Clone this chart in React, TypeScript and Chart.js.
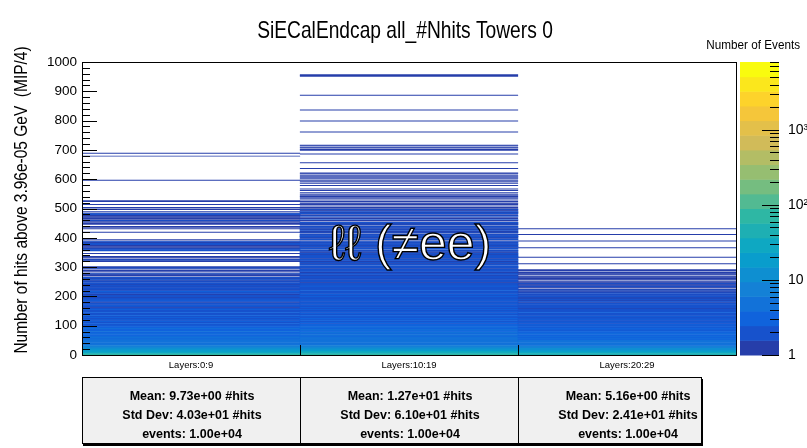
import React, { useEffect, useRef } from 'react';
import { Chart, registerables } from 'chart.js';

Chart.register(...registerables);

// ---------------- data ----------------
const chartTitle = 'SiECalEndcap all_#Nhits Towers 0';
const yTitle = 'Number of hits above 3.96e-05 GeV  (MIP/4)';
const zTitle = 'Number of Events';
const overlayLabel = 'ℓℓ (≠ee)';
const categories = ['Layers:0:9', 'Layers:10:19', 'Layers:20:29'];
const binWidth = 2.5;
const yMin = 0;
const yMax = 1000;
const yMajorStep = 100;
const yMinorStep = 20;
const zMin = 1;
const zMax = 8000;
const zLabelValues = [1, 10, 100, 1000];
const zLabelTexts = ['1', '10', '10²', '10³'];

// events per 2.5-unit bin starting at 0 (each row = 50 units)
const layers0to9 = [
  60, 45, 35, 28, 22, 18, 15, 13, 11, 10, 9, 8, 7, 6, 6, 5, 5, 4, 5, 4,
  4, 3, 4, 4, 3, 4, 3, 3, 4, 3, 3, 4, 3, 3, 3, 4, 3, 3, 3, 2,
  3, 2, 3, 2, 2, 3, 2, 3, 2, 2, 3, 2, 2, 3, 2, 2, 2, 3, 2, 2,
  2, 3, 2, 2, 1, 2, 2, 3, 2, 2, 2, 1, 2, 2, 3, 2, 2, 2, 1, 2,
  2, 2, 1, 2, 2, 2, 3, 2, 1, 2, 2, 2, 1, 2, 2, 1, 2, 2, 2, 1,
  2, 1, 2, 2, 1, 2, 1, 0, 1, 1, 2, 1, 0, 1, 1, 1, 0, 1, 2, 1,
  1, 0, 0, 0, 0, 0, 0, 1, 1, 2, 1, 0, 1, 1, 1, 0, 0, 0, 1, 0,
  0, 0, 2, 2, 2, 1, 1, 1, 1, 1, 2, 2, 2, 1, 2, 1, 0, 1, 0, 0,
  0, 0, 0, 0, 0, 0, 0, 1, 0, 0, 0, 0, 1, 0, 1, 1, 0, 0, 1, 1,
  1, 0, 1, 2, 1, 0, 1, 1, 1, 1, 1, 2, 2, 1, 0, 1, 0, 0, 1, 1,
  0, 1, 0, 0, 0, 1, 0, 0, 0, 1, 1, 0, 0, 0, 0, 0, 0, 0, 0, 0,
  0, 0, 0, 0, 0, 0, 0, 0, 0, 0, 0, 0, 0, 0, 0, 0, 0, 0, 1, 0,
  0, 0, 0, 0, 0, 0, 0, 0, 0, 0, 0, 0, 0, 0, 0, 0, 0, 0, 0, 0,
  0, 0, 0, 0, 0, 0, 0, 0, 0, 0, 0, 1, 0, 0, 0, 1,
];

const layers10to19 = [
  70, 50, 38, 30, 24, 19, 16, 14, 12, 10, 9, 8, 7, 6, 6, 5, 5, 5, 4, 4,
  4, 5, 4, 4, 4, 3, 4, 4, 3, 4, 4, 3, 4, 3, 4, 3, 3, 4, 3, 3,
  3, 3, 2, 3, 3, 2, 3, 2, 3, 3, 2, 3, 2, 3, 2, 2, 3, 2, 3, 2,
  2, 3, 2, 2, 3, 2, 2, 3, 2, 2, 3, 2, 2, 2, 3, 2, 2, 2, 2, 3,
  2, 2, 3, 2, 2, 2, 2, 3, 2, 2, 2, 2, 2, 3, 2, 2, 2, 2, 1, 2,
  2, 2, 2, 1, 2, 2, 2, 2, 1, 2, 2, 2, 1, 2, 2, 2, 2, 1, 2, 2,
  2, 2, 0, 2, 1, 2, 2, 1, 2, 2, 2, 1, 2, 2, 2, 2, 1, 2, 2, 1,
  2, 1, 2, 2, 0, 2, 1, 2, 2, 1, 2, 2, 1, 2, 2, 1, 0, 2, 1, 2,
  1, 2, 2, 1, 2, 0, 1, 2, 1, 2, 1, 2, 1, 2, 1, 2, 0, 1, 2, 1,
  2, 1, 0, 1, 2, 0, 1, 1, 0, 2, 1, 1, 0, 2, 1, 2, 1, 1, 2, 1,
  1, 1, 0, 1, 0, 1, 1, 1, 0, 1, 0, 1, 0, 1, 0, 1, 1, 1, 0, 1,
  0, 1, 0, 0, 1, 0, 1, 0, 0, 0, 0, 1, 0, 0, 1, 0, 1, 0, 1, 0,
  1, 0, 1, 1, 0, 1, 0, 1, 1, 0, 0, 0, 0, 0, 1, 0, 0, 0, 0, 0,
  0, 0, 1, 0, 0, 0, 0, 0, 0, 0, 0, 0, 0, 0, 1, 0, 0, 0, 0, 1,
  1, 0, 1, 1, 0, 1, 1, 0, 0, 0, 0, 0, 0, 0, 0, 0, 0, 0, 0, 0,
  0, 0, 0, 0, 1, 0, 0, 0, 0, 0, 0, 0, 0, 0, 0, 0, 0, 0, 0, 1,
  0, 0, 0, 0, 0, 0, 0, 0, 0, 0, 0, 0, 0, 0, 1, 0, 0, 0, 0, 0,
  0, 0, 0, 0, 0, 0, 0, 0, 0, 0, 0, 0, 0, 0, 1, 0, 0, 0, 0, 0,
  0, 0, 0, 0, 0, 0, 0, 0, 0, 0, 0, 0, 0, 0, 0, 0, 0, 0, 0, 0,
  1, 1, 1,
];

const layers20to29 = [
  55, 42, 32, 25, 20, 16, 13, 11, 10, 9, 8, 7, 6, 6, 5, 5, 4, 4, 4, 4,
  3, 4, 3, 3, 4, 3, 3, 3, 4, 3, 3, 3, 3, 2, 3, 3, 3, 2, 3, 3,
  2, 3, 2, 2, 3, 2, 2, 2, 3, 2, 2, 2, 3, 2, 2, 2, 2, 3, 2, 2,
  2, 2, 2, 1, 2, 2, 2, 2, 2, 2, 2, 1, 2, 2, 1, 2, 1, 2, 1, 2,
  2, 1, 2, 2, 1, 2, 1, 1, 2, 1, 0, 1, 1, 2, 1, 1, 1, 2, 1, 1,
  1, 0, 1, 1, 1, 1, 1, 1, 0, 1, 1, 1, 1, 0, 1, 1, 1, 0, 0, 0,
  0, 0, 0, 0, 1, 0, 0, 0, 0, 0, 0, 0, 0, 1, 0, 0, 0, 0, 0, 0,
  0, 0, 0, 0, 0, 0, 1, 0, 0, 0, 0, 0, 0, 0, 0, 1, 0, 0, 0, 0,
  0, 0, 0, 0, 1, 0, 0, 0, 0, 0, 0, 0, 1,
];

const statMeans = ['9.73e+00', '1.27e+01', '5.16e+00'];
const statStdDevs = ['4.03e+01', '6.10e+01', '2.41e+01'];
const statEvents = ['1.00e+04', '1.00e+04', '1.00e+04'];

// ---------------- styling helpers ----------------
const FONT = '"Liberation Sans", Arial, Helvetica, sans-serif';
const NCONT = 20;
const BR = [0.2082, 0.0592, 0.078, 0.0232, 0.1802, 0.5301, 0.8186, 0.9956, 0.9764];
const BG = [0.1664, 0.3599, 0.5041, 0.6419, 0.7178, 0.7492, 0.7328, 0.7862, 0.9832];
const BB = [0.5293, 0.8684, 0.8385, 0.7914, 0.6425, 0.4662, 0.3499, 0.1968, 0.0539];

function bird(t: number): string {
  const x = Math.max(0, Math.min(1, t)) * 8;
  const i = Math.min(7, Math.floor(x));
  const f = x - i;
  const r = BR[i] + (BR[i + 1] - BR[i]) * f;
  const g = BG[i] + (BG[i + 1] - BG[i]) * f;
  const b = BB[i] + (BB[i + 1] - BB[i]) * f;
  return `rgb(${Math.round(r * 255)},${Math.round(g * 255)},${Math.round(b * 255)})`;
}

function bandOf(v: number): number {
  const k = Math.floor((NCONT * Math.log10(v / zMin)) / Math.log10(zMax / zMin));
  return Math.max(0, Math.min(NCONT - 1, k));
}

function countColor(c: number): string {
  return bird((bandOf(c) + 1) / NCONT);
}

const columns = [layers0to9, layers10to19, layers20to29];

function narrowText(ctx: any, text: string, x: number, y: number, size: number, sx: number, align: string, rot = 0) {
  ctx.save();
  ctx.translate(x, y);
  if (rot) ctx.rotate(rot);
  ctx.scale(sx, 1);
  ctx.font = `${size}px ${FONT}`;
  ctx.textAlign = align;
  ctx.textBaseline = 'middle';
  ctx.fillText(text, 0, 0);
  ctx.restore();
}

const decorPlugin = {
  id: 'rootDecor',
  afterDatasetsDraw(chart: any) {
    const { ctx, chartArea: a, scales } = chart;
    const ys = scales.y;
    const xs = scales.x;
    const zs = scales.z;
    ctx.save();

    // overlay label
    ctx.font = `50px ${FONT}`;
    ctx.textAlign = 'center';
    ctx.textBaseline = 'middle';
    ctx.fillStyle = '#ffffff';
    ctx.strokeStyle = '#000000';
    ctx.lineWidth = 1.4;
    ctx.fillText(overlayLabel, 410, 246);
    ctx.strokeText(overlayLabel, 410, 246);

    // frame
    ctx.strokeStyle = '#000';
    ctx.lineWidth = 1;
    ctx.strokeRect(Math.round(a.left) + 0.5, Math.round(a.top) + 0.5, Math.round(a.right - a.left), Math.round(a.bottom - a.top));

    // y ticks inside
    ctx.beginPath();
    for (let v = yMin; v <= yMax; v += yMinorStep) {
      const py = Math.round(ys.getPixelForValue(v)) + 0.5;
      const len = v % yMajorStep === 0 ? 15 : 8;
      ctx.moveTo(a.left, py);
      ctx.lineTo(a.left + len, py);
    }
    // x ticks at category edges
    const n = categories.length;
    for (let i = 0; i <= n; i++) {
      let px;
      if (i === 0) px = a.left;
      else if (i === n) px = a.right;
      else px = (xs.getPixelForValue(i - 1) + xs.getPixelForValue(i)) / 2;
      px = Math.round(px) + 0.5;
      ctx.moveTo(px, a.bottom);
      ctx.lineTo(px, a.bottom - 10);
    }
    ctx.stroke();

    // colour bar
    const cbL = 740;
    const cbR = 779;
    const lz0 = Math.log10(zMin);
    const lz1 = Math.log10(zMax);
    for (let k = 0; k < NCONT; k++) {
      const lo = Math.pow(10, lz0 + ((lz1 - lz0) * k) / NCONT);
      const hi = Math.pow(10, lz0 + ((lz1 - lz0) * (k + 1)) / NCONT);
      const y1 = zs.getPixelForValue(lo);
      const y2 = zs.getPixelForValue(hi);
      ctx.fillStyle = bird((k + 1) / NCONT);
      ctx.fillRect(cbL, y2, cbR - cbL, y1 - y2 + 0.5);
    }
    ctx.beginPath();
    for (let d = 0; d < 4; d++) {
      for (let m = 1; m <= 9; m++) {
        const v = m * Math.pow(10, d);
        if (v > zMax) continue;
        const py = Math.round(zs.getPixelForValue(v)) + 0.5;
        const len = m === 1 ? 17 : 9;
        ctx.moveTo(cbR, py);
        ctx.lineTo(cbR - len, py);
      }
    }
    ctx.strokeStyle = '#000';
    ctx.stroke();

    // titles
    ctx.fillStyle = '#000';
    narrowText(ctx, chartTitle, 405, 31, 24, 0.8, 'center');
    narrowText(ctx, zTitle, 800, 45, 13, 0.9, 'right');
    narrowText(ctx, yTitle, 22, 200, 18, 0.86, 'center', -Math.PI / 2);
    ctx.restore();
  },
};

export default function App() {
  const ref = useRef<HTMLCanvasElement | null>(null);

  useEffect(() => {
    if (!ref.current) return;
    const nBins = Math.max(...columns.map((c) => c.length));
    const datasets: any[] = [];
    for (let i = 0; i < nBins; i++) {
      datasets.push({
        data: columns.map((col) => ((col[i] || 0) > 0 ? [i * binWidth, (i + 1) * binWidth] : null)),
        backgroundColor: columns.map((col) => ((col[i] || 0) > 0 ? countColor(col[i]) : 'rgba(0,0,0,0)')),
        borderWidth: 0,
        inflateAmount: (c: any) => {
          const v = columns[c.dataIndex] ? columns[c.dataIndex][i] || 0 : 0;
          return v >= 2 ? 0.3 : 0.12;
        },
        grouped: false,
        barPercentage: 1,
        categoryPercentage: 1,
      });
    }
    const chart = new Chart(ref.current, {
      type: 'bar',
      data: { labels: categories, datasets },
      options: {
        responsive: false,
        animation: false,
        devicePixelRatio: 1,
        layout: { padding: { top: 62, left: 0, right: 0, bottom: 0 } },
        plugins: {
          legend: { display: false },
          tooltip: { enabled: false },
          title: { display: false },
        },
        scales: {
          x: {
            type: 'category',
            offset: true,
            grid: { display: false, drawTicks: false },
            border: { display: false },
            ticks: { font: { family: FONT, size: 9.5 }, color: '#000', padding: 5, maxRotation: 0 },
            afterFit: (s: any) => {
              s.height = 93;
            },
          },
          y: {
            type: 'linear',
            min: yMin,
            max: yMax,
            grid: { display: false, drawTicks: false },
            border: { display: false },
            ticks: {
              stepSize: yMajorStep,
              font: { family: FONT, size: 13.5 },
              color: '#000',
              padding: 5,
              callback: (v: any) => String(v),
            },
            afterFit: (s: any) => {
              s.width = 82;
            },
          },
          z: {
            type: 'logarithmic',
            axis: 'y',
            position: 'right',
            min: zMin,
            max: zMax,
            grid: { display: false, drawTicks: false },
            border: { display: false },
            ticks: {
              autoSkip: false,
              padding: 52,
              font: { family: FONT, size: 14 },
              color: '#000',
              callback: (v: any) => {
                const idx = zLabelValues.indexOf(Number(v));
                return idx >= 0 ? zLabelTexts[idx] : '';
              },
            },
            afterFit: (s: any) => {
              s.width = 71;
            },
          },
        } as any,
      },
      plugins: [decorPlugin],
    } as any);
    return () => chart.destroy();
  }, []);

  const centers = [109, 327, 545];
  const rows = [
    (i: number) => `Mean: ${statMeans[i]} #hits`,
    (i: number) => `Std Dev: ${statStdDevs[i]} #hits`,
    (i: number) => `events: ${statEvents[i]}`,
  ];
  const rowY = [18, 37, 56];

  return (
    <div style={{ position: 'absolute', left: 0, top: 0, width: 807, height: 448, background: '#fff' }}>
      <canvas ref={ref} width={807} height={448} style={{ position: 'absolute', left: 0, top: 0, width: 807, height: 448 }} />
      <div
        style={{
          position: 'absolute',
          left: 82,
          top: 377,
          width: 618,
          height: 65,
          background: '#f0f0f0',
          border: '1px solid #000',
          boxShadow: '1px 2px 0 #000',
          fontFamily: FONT,
          fontSize: 12.5,
          fontWeight: 'bold',
          color: '#000',
          overflow: 'hidden',
        }}
      >
        <div style={{ position: 'absolute', left: 217, top: 0, width: 1, height: 65, background: '#000' }} />
        <div style={{ position: 'absolute', left: 435, top: 0, width: 1, height: 65, background: '#000' }} />
        {centers.map((cx, i) =>
          rows.map((fn, r) => (
            <div
              key={`${i}-${r}`}
              style={{
                position: 'absolute',
                left: cx,
                top: rowY[r],
                transform: 'translate(-50%, -50%)',
                whiteSpace: 'nowrap',
              }}
            >
              {fn(i)}
            </div>
          ))
        )}
      </div>
    </div>
  );
}
